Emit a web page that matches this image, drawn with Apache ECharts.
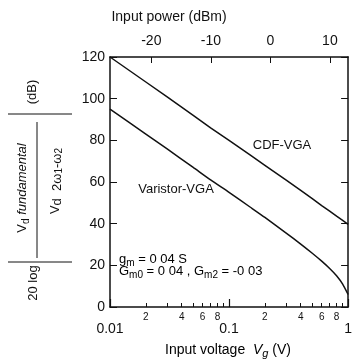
<!DOCTYPE html>
<html>
<head>
<meta charset="utf-8">
<script src="https://cdn.jsdelivr.net/npm/echarts@6/dist/echarts.min.js"></script>
<style>
  html, body { margin: 0; padding: 0; background: #fff; }
  #chart { width: 355px; height: 362px; }
</style>
</head>
<body>
<div id="chart"></div>
<script>
// input voltage Vg (V), log axis
const voltage = [0.01, 0.02, 0.03, 0.05, 0.07, 0.1, 0.15, 0.2, 0.3, 0.4, 0.5, 0.6, 0.7, 0.8, 0.9, 1.0]
// 20 log(Vd fund / Vd 2w1-w2), dB
const cdfVga = [120, 108, 101, 92, 86, 80, 73, 68, 61, 56, 52, 48.7, 46, 43.6, 41.6, 39.7]
const varistorVga = [95, 83, 76, 67, 61, 55, 48, 43, 35.6, 30.2, 25.8, 22, 18.5, 15, 11, 6]

const voltMajor = [0.01, 0.1, 1]
const voltMinorLabels = [0.02, 0.04, 0.06, 0.08, 0.2, 0.4, 0.6, 0.8]
const voltTicks = [0.01, 0.02, 0.03, 0.04, 0.05, 0.06, 0.07, 0.08, 0.09,
  0.1, 0.2, 0.3, 0.4, 0.5, 0.6, 0.7, 0.8, 0.9, 1]
const powerTicks = [-20, -10, 0, 10]
const powerRange = [-26.94, 13.06]

const font = 'Liberation Sans, Arial, sans-serif'
const black = '#111'

const chart = echarts.init(document.getElementById('chart'))

const rotated = (x, y, text, rich) => ({
  type: 'text',
  x: x,
  y: y,
  rotation: Math.PI / 2,
  style: {
    text: text,
    x: 0,
    y: 0,
    align: 'center',
    verticalAlign: 'middle',
    font: '13px ' + font,
    fill: black,
    rich: rich || {}
  }
})

const subRich = {
  n: { fontSize: 13, fontFamily: font, color: black, lineHeight: 18 },
  i: { fontSize: 13, fontFamily: font, fontStyle: 'italic', color: black, lineHeight: 18 },
  s: { fontSize: 10, fontFamily: font, color: black, verticalAlign: 'bottom', lineHeight: 10 },
  si: { fontSize: 10, fontFamily: font, fontStyle: 'italic', color: black, verticalAlign: 'bottom', lineHeight: 10 }
}

const option = {
  animation: false,
  textStyle: { fontFamily: font, color: black },
  grid: { left: 110, right: 3, top: 57, bottom: 55 },
  xAxis: [
    {
      type: 'log',
      position: 'bottom',
      min: 0.01,
      max: 1,
      axisLine: { onZero: false, lineStyle: { color: black, width: 1.5 } },
      axisTick: { inside: true, length: 4, customValues: voltTicks, lineStyle: { color: black } },
      axisLabel: {
        customValues: voltMajor,
        margin: 15,
        fontSize: 14,
        color: black,
        formatter: v => String(+(+v).toPrecision(3))
      },
      splitLine: { show: false }
    },
    {
      type: 'log',
      position: 'bottom',
      min: 0.01,
      max: 1,
      axisLine: { show: false, onZero: false },
      axisTick: { inside: true, length: 8, customValues: voltMajor, lineStyle: { color: black, width: 1.2 } },
      axisLabel: {
        customValues: voltMinorLabels,
        margin: 5,
        fontSize: 10,
        color: black,
        formatter: v => String(+(+v).toPrecision(1)).replace(/0\.0*/, '')
      },
      splitLine: { show: false }
    },
    {
      type: 'value',
      position: 'top',
      min: powerRange[0],
      max: powerRange[1],
      axisLine: { onZero: false, lineStyle: { color: black, width: 1.5 } },
      axisTick: { inside: true, length: 6, customValues: powerTicks, lineStyle: { color: black } },
      axisLabel: { customValues: powerTicks, margin: 9, fontSize: 14, color: black },
      splitLine: { show: false }
    }
  ],
  yAxis: [
    {
      type: 'value',
      position: 'left',
      min: 0,
      max: 120,
      interval: 20,
      axisLine: { show: true, onZero: false, lineStyle: { color: black, width: 1.5 } },
      axisTick: { inside: true, length: 7, lineStyle: { color: black } },
      axisLabel: { margin: 5, fontSize: 14, color: black },
      splitLine: { show: false }
    },
    {
      type: 'value',
      position: 'right',
      min: 0,
      max: 120,
      interval: 20,
      axisLine: { show: true, onZero: false, lineStyle: { color: black, width: 1.5 } },
      axisTick: { inside: true, length: 7, lineStyle: { color: black } },
      axisLabel: { show: false },
      splitLine: { show: false }
    }
  ],
  series: [
    {
      name: 'CDF-VGA',
      type: 'line',
      xAxisIndex: 0,
      yAxisIndex: 0,
      showSymbol: false,
      lineStyle: { color: black, width: 1.5 },
      data: voltage.map((v, i) => [v, cdfVga[i]])
    },
    {
      name: 'Varistor-VGA',
      type: 'line',
      xAxisIndex: 0,
      yAxisIndex: 0,
      showSymbol: false,
      smooth: 0.2,
      lineStyle: { color: black, width: 1.5 },
      data: voltage.map((v, i) => [v, varistorVga[i]])
    }
  ],
  graphic: [
    { type: 'text', x: 169, y: 17, style: { text: 'Input power (dBm)', font: '14px ' + font, fill: black, align: 'center', verticalAlign: 'middle' } },
    {
      type: 'text', x: 228, y: 350,
      style: {
        text: '{n|Input voltage  }{i|V}{si|g}{n| (V)}',
        align: 'center', verticalAlign: 'middle',
        rich: {
          n: { fontSize: 14, fontFamily: font, color: black, lineHeight: 18 },
          i: { fontSize: 14, fontFamily: font, fontStyle: 'italic', color: black, lineHeight: 18 },
          si: { fontSize: 11, fontFamily: font, fontStyle: 'italic', color: black, verticalAlign: 'bottom', lineHeight: 11 }
        }
      }
    },
    { type: 'text', x: 282, y: 145, style: { text: 'CDF-VGA', font: '13px ' + font, fill: black, align: 'center', verticalAlign: 'middle' } },
    { type: 'text', x: 176, y: 189, style: { text: 'Varistor-VGA', font: '13px ' + font, fill: black, align: 'center', verticalAlign: 'middle' } },
    {
      type: 'text', x: 119, y: 259,
      style: {
        text: '{n|g}{s|m}{n| = 0 04 S}',
        align: 'left', verticalAlign: 'middle', rich: subRich
      }
    },
    {
      type: 'text', x: 119, y: 271,
      style: {
        text: '{n|G}{s|m0}{n| = 0 04 , G}{s|m2}{n| = -0 03}',
        align: 'left', verticalAlign: 'middle', rich: subRich
      }
    },
    // y axis label: 20 log |Vd fundamental / Vd 2w1-w2| (dB)
    rotated(33, 283, '20 log'),
    rotated(22, 188, '{n|V}{s|d}{i| fundamental}', subRich),
    rotated(55, 181, '{n|V}{s|d}{n|  }{s|2ω}{t|1}{s|-ω}{t|2}', {
      n: subRich.n,
      s: { fontSize: 13, fontFamily: font, color: black, verticalAlign: 'bottom', lineHeight: 13 },
      t: { fontSize: 10, fontFamily: font, color: black, verticalAlign: 'bottom', lineHeight: 8 }
    }),
    rotated(32, 92, '(dB)'),
    { type: 'line', shape: { x1: 37, y1: 122, x2: 37, y2: 258 }, style: { stroke: black, lineWidth: 1 } },
    { type: 'line', shape: { x1: 8, y1: 114, x2: 72, y2: 114 }, style: { stroke: black, lineWidth: 1 } },
    { type: 'line', shape: { x1: 8, y1: 262, x2: 72, y2: 262 }, style: { stroke: black, lineWidth: 1 } }
  ]
}

chart.setOption(option)
window.addEventListener('resize', () => {
  chart.resize()
})
</script>
</body>
</html>
